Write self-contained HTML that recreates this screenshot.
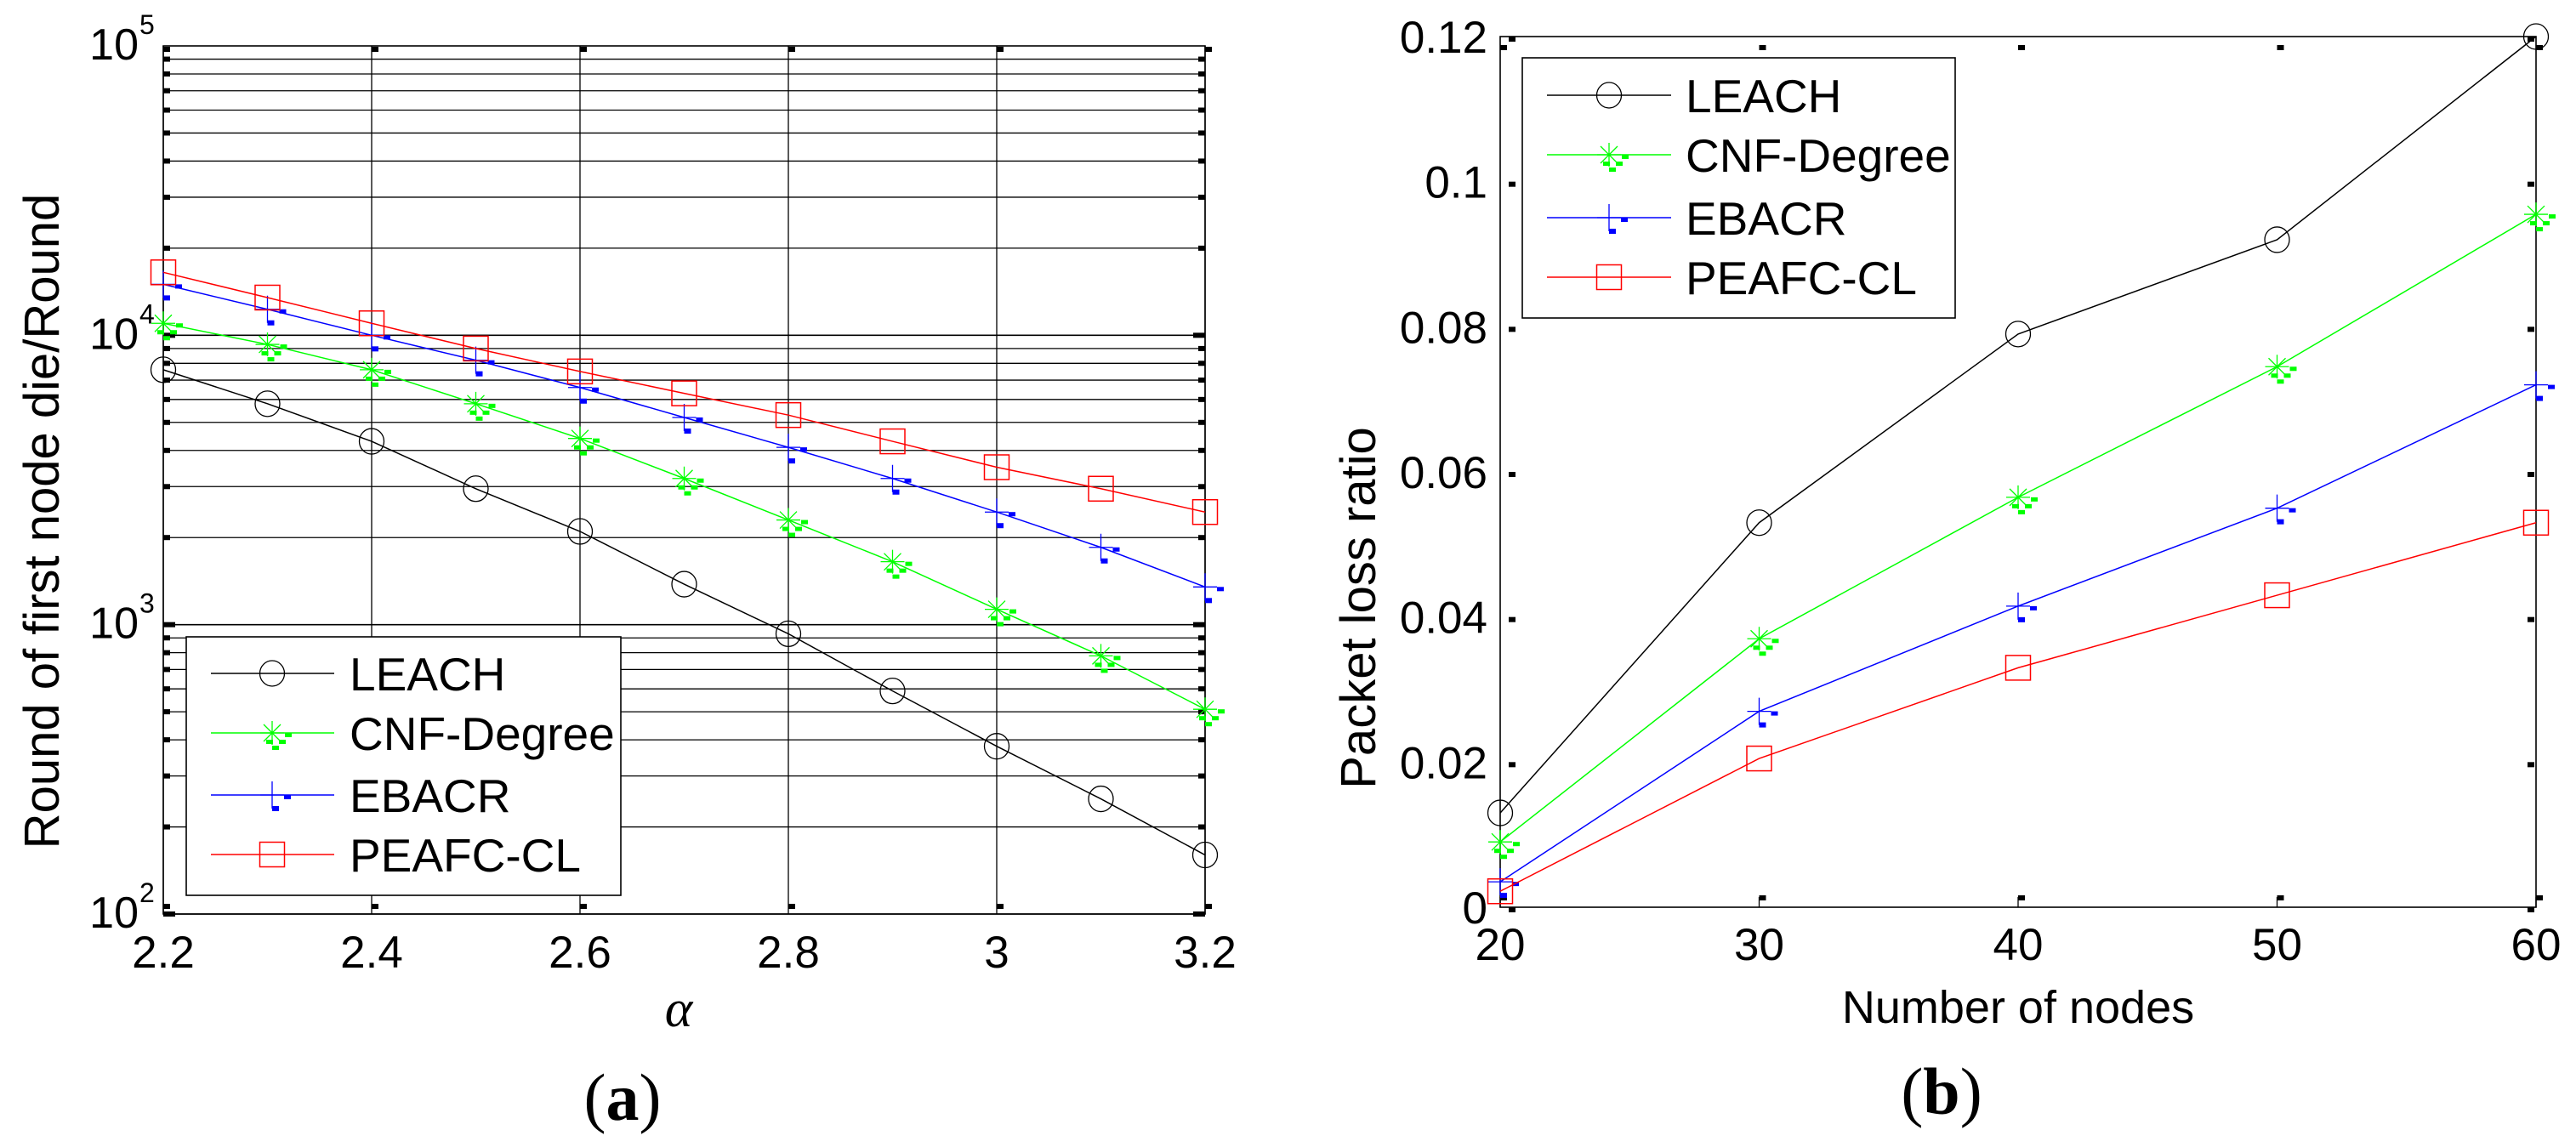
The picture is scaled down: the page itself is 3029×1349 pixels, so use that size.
<!DOCTYPE html>
<html><head><meta charset="utf-8"><style>
html,body{margin:0;padding:0;background:#fff;}
svg{display:block;font-family:"Liberation Sans",Arial,sans-serif;}
</style></head><body>
<svg id="fig" width="3029" height="1349" viewBox="0 0 3029 1349" xmlns="http://www.w3.org/2000/svg">
<rect width="3029" height="1349" fill="#fff"/>
<g id="chartA"></g>
<g id="chartB"></g>
</svg>
<script>
// ---- Chart (a) data ----
const alphaValues = [2.2,2.3,2.4,2.5,2.6,2.7,2.8,2.9,3.0,3.1,3.2];
const leachA = [7600,5800,4300,2950,2100,1380,930,590,380,250,160];
const cnfA = [11000,9300,7600,5800,4400,3200,2300,1650,1130,780,510];
const ebacrA = [15000,12300,10000,8200,6600,5200,4100,3200,2450,1850,1350];
const peafcA = [16500,13500,11000,9000,7500,6300,5300,4300,3500,2950,2450];
const xTicksA = [2.2,2.4,2.6,2.8,3.0,3.2];
const xTickLabelsA = ["2.2","2.4","2.6","2.8","3","3.2"];
const yDecadesA = [2,3,4,5];

// ---- Chart (b) data ----
const nodeCounts = [20,30,40,50,60];
const leachB = [0.013,0.053,0.079,0.092,0.120];
const cnfB = [0.009,0.037,0.0565,0.0745,0.0955];
const ebacrB = [0.0035,0.027,0.0415,0.055,0.072];
const peafcB = [0.0022,0.0205,0.033,0.043,0.053];
const xTicksB = [20,30,40,50,60];
const yTicksB = [0,0.02,0.04,0.06,0.08,0.1,0.12];
const yTickLabelsB = ["0","0.02","0.04","0.06","0.08","0.1","0.12"];

const NS="http://www.w3.org/2000/svg";
function mk(parent,tag,attrs,text){const e=document.createElementNS(NS,tag);for(const k in attrs)e.setAttribute(k,attrs[k]);if(text!==undefined)e.textContent=text;parent.appendChild(e);return e;}

function marker(g,type,color,x,y){
  const m=mk(g,'g',{});
  if(type==='circle'){mk(m,'ellipse',{cx:x,cy:y,rx:14.5,ry:15,fill:'none',stroke:color,'stroke-width':1.3});}
  else if(type==='square'){mk(m,'rect',{x:x-14.5,y:y-14.5,width:29,height:29,fill:'none',stroke:color,'stroke-width':1.5});}
  else if(type==='star'){
    mk(m,'path',{d:`M${x-14} ${y}H${x+14}M${x} ${y-14}V${y+14}M${x-10} ${y-10}L${x+10} ${y+10}M${x-10} ${y+10}L${x+10} ${y-10}`,stroke:color,'stroke-width':1.3,fill:'none'});
    mk(m,'rect',{x:x+15,y:y,width:8,height:5,fill:color});
    mk(m,'rect',{x:x-7,y:y+8,width:8,height:5,fill:color});
    mk(m,'rect',{x:x+8,y:y+8,width:8,height:5,fill:color});
    mk(m,'rect',{x:x,y:y+15,width:8,height:5,fill:color});
  } else if(type==='plus'){
    mk(m,'path',{d:`M${x-14} ${y}H${x+14}M${x} ${y-16}V${y+16}`,stroke:color,'stroke-width':1.3,fill:'none'});
    mk(m,'rect',{x:x+14,y:y,width:8,height:5,fill:color});
    mk(m,'rect',{x:x,y:y+13,width:8,height:6,fill:color});
  }
  return m;
}

// ================= Chart A =================
(function(){
  const g=document.getElementById('chartA');
  const X0=192,X1=1417,Y5=54,Y2=1075;
  const xs=v=>X0+(v-2.2)/(1.0)*(X1-X0);
  const ys=v=>Y2-(Math.log10(v)-2)/3*(Y2-Y5);
  // horizontal grid
  const grid=mk(g,'g',{});
  
  
  for(let d=2;d<5;d++){for(let k=1;k<10;k++){const v=k*Math.pow(10,d);const y=ys(v);
    mk(grid,'line',{x1:X0,x2:X1,y1:y,y2:y,stroke:'#000','stroke-width':k===1?1.6:1.3});
    mk(grid,'rect',{x:X0,y:y-3,width:k===1?14:8,height:6,fill:'#000'});
    mk(grid,'rect',{x:X1-(k===1?14:8),y:y-3,width:k===1?14:8,height:6,fill:'#000'});}}
  const vg=mk(g,'g',{});
  
  
  xTicksA.forEach(v=>{const x=xs(v);mk(vg,'line',{x1:x,x2:x,y1:Y5,y2:Y2,stroke:'#000','stroke-width':1.3});
    mk(vg,'rect',{x:x,y:Y5+1,width:8,height:6,fill:'#000'});mk(vg,'rect',{x:x,y:Y2-12,width:8,height:6,fill:'#000'});});
  const box=mk(g,'rect',{x:X0,y:Y5,width:X1-X0,height:Y2-Y5,fill:'none',stroke:'#000','stroke-width':1.6});
  
  
  // series
  const series=[[leachA,'#000','circle','leach'],[cnfA,'#00ff00','star','cnf-degree'],[ebacrA,'#0000ff','plus','ebacr'],[peafcA,'#ff0000','square','peafc-cl']];
  series.forEach(([data,col,mt,nm])=>{
    const sg=mk(g,'g',{});
    
    
    const pts=data.map((v,i)=>xs(alphaValues[i])+','+ys(v)).join(' ');
    mk(sg,'polyline',{points:pts,fill:'none',stroke:col,'stroke-width':1.5});
    data.forEach((v,i)=>{const m=marker(sg,mt,col,xs(alphaValues[i]),ys(v));
      
      });
  });
  // tick labels
  xTicksA.forEach((v,i)=>{const t=mk(g,'text',{x:xs(v),y:1138,'font-size':53,'text-anchor':'middle'},xTickLabelsA[i]);
    
    });
  yDecadesA.forEach(d=>{const y=ys(Math.pow(10,d));const t=mk(g,'text',{x:163,y:y+16,'font-size':52,'text-anchor':'end'},'10');
    
    
    mk(g,'text',{x:164,y:y-14,'font-size':32,'text-anchor':'start'},String(d));});
  // legend
  const lg=mk(g,'g',{});
  
  
  mk(lg,'rect',{x:219,y:749,width:511,height:304,fill:'#fff',stroke:'#000','stroke-width':1.6});
  const names=['LEACH','CNF-Degree','EBACR','PEAFC-CL'];const rowsY=[792,862,935,1005];
  series.forEach(([d,col,mt],i)=>{const eg=mk(lg,'g',{});
    
    
    mk(eg,'line',{x1:248,x2:393,y1:rowsY[i],y2:rowsY[i],stroke:col,'stroke-width':1.5});
    marker(eg,mt,col,320,rowsY[i]);
    mk(eg,'text',{x:411,y:rowsY[i]+20,'font-size':55},names[i]);});
  // axis labels
  const yl=mk(g,'text',{x:0,y:0,'font-size':58,'text-anchor':'middle',transform:'translate(69,613) rotate(-90)'},'Round of first node die/Round');
  
  
  const xl=mk(g,'text',{x:798,y:1207,'font-size':62,'font-style':'italic','font-family':'"Liberation Serif",serif','text-anchor':'middle'},'α');
  
  
  const cap=mk(g,'text',{x:732,y:1317,'font-size':78,'font-family':'"Liberation Serif",serif','text-anchor':'middle'});
  
  
  mk(cap,'tspan',{},'(');mk(cap,'tspan',{'font-weight':'bold'},'a');mk(cap,'tspan',{},')');
})();

// ================= Chart B =================
(function(){
  const g=document.getElementById('chartB');
  const X0=1764,X1=2982,Y0=1067,YT=43;
  const xs=v=>X0+(v-20)/40*(X1-X0);
  const ys=v=>Y0-v/0.12*(Y0-YT);
  const box=mk(g,'rect',{x:X0,y:YT,width:X1-X0,height:Y0-YT,fill:'none',stroke:'#000','stroke-width':1.6});
  
  
  xTicksB.forEach(v=>{const x=xs(v);mk(g,'rect',{x:x,y:Y0-14,width:8,height:6,fill:'#000'});mk(g,'line',{x1:x,x2:x,y1:Y0,y2:Y0-12,stroke:'#000','stroke-width':1.3});
    mk(g,'rect',{x:x,y:YT+10,width:8,height:6,fill:'#000'});
    const t=mk(g,'text',{x:x,y:1129,'font-size':53,'text-anchor':'middle'},String(v));
    
    });
  yTicksB.forEach((v,i)=>{const y=ys(v);mk(g,'rect',{x:X0+10,y:y,width:8,height:6,fill:'#000'});mk(g,'rect',{x:X1-10,y:y,width:8,height:6,fill:'#000'});
    const t=mk(g,'text',{x:1749,y:y+19,'font-size':53,'text-anchor':'end'},yTickLabelsB[i]);
    
    });
  const series=[[leachB,'#000','circle','leach'],[cnfB,'#00ff00','star','cnf-degree'],[ebacrB,'#0000ff','plus','ebacr'],[peafcB,'#ff0000','square','peafc-cl']];
  series.forEach(([data,col,mt,nm])=>{
    const sg=mk(g,'g',{});
    
    
    const pts=data.map((v,i)=>xs(nodeCounts[i])+','+ys(v)).join(' ');
    mk(sg,'polyline',{points:pts,fill:'none',stroke:col,'stroke-width':1.5});
    data.forEach((v,i)=>{const m=marker(sg,mt,col,xs(nodeCounts[i]),ys(v));
      
      });
  });
  const lg=mk(g,'g',{});
  
  
  mk(lg,'rect',{x:1790,y:68,width:509,height:306,fill:'#fff',stroke:'#000','stroke-width':1.6});
  const names=['LEACH','CNF-Degree','EBACR','PEAFC-CL'];const rowsY=[112,182,256,326];
  series.forEach(([d,col,mt],i)=>{const eg=mk(lg,'g',{});
    
    
    mk(eg,'line',{x1:1819,x2:1965,y1:rowsY[i],y2:rowsY[i],stroke:col,'stroke-width':1.5});
    marker(eg,mt,col,1892,rowsY[i]);
    mk(eg,'text',{x:1982,y:rowsY[i]+20,'font-size':55},names[i]);});
  const yl=mk(g,'text',{x:0,y:0,'font-size':58,'text-anchor':'middle',transform:'translate(1617,715) rotate(-90)'},'Packet loss ratio');
  
  
  const xl=mk(g,'text',{x:2373,y:1203,'font-size':54,'text-anchor':'middle'},'Number of nodes');
  
  
  const cap=mk(g,'text',{x:2283,y:1310,'font-size':78,'font-family':'"Liberation Serif",serif','text-anchor':'middle'});
  
  
  mk(cap,'tspan',{},'(');mk(cap,'tspan',{'font-weight':'bold'},'b');mk(cap,'tspan',{},')');
})();
</script>
</body></html>
